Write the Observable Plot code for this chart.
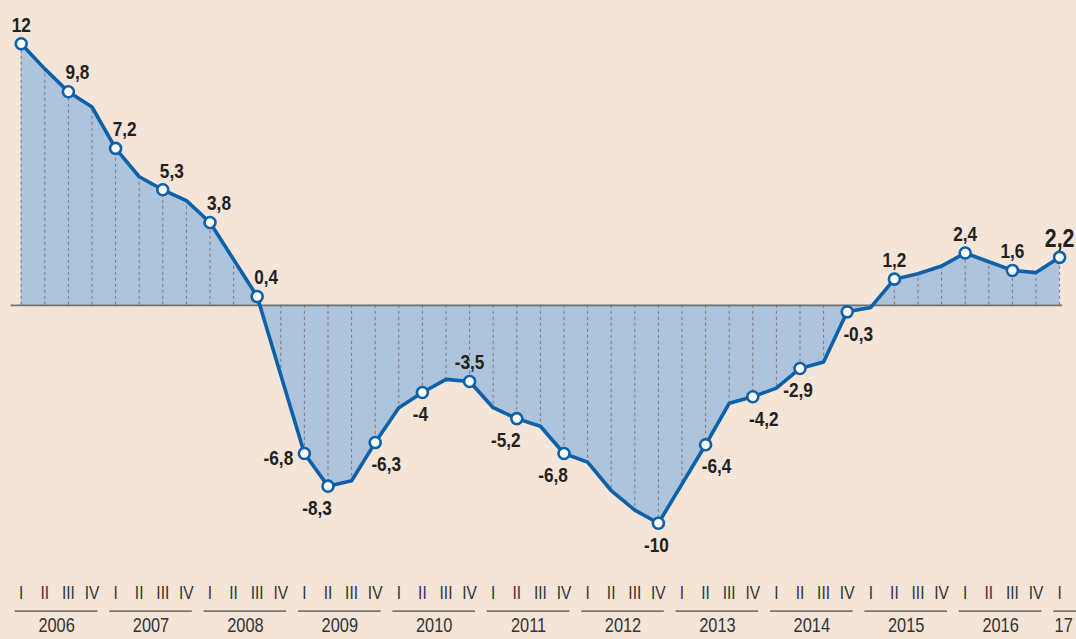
<!DOCTYPE html>
<html>
<head>
<meta charset="utf-8">
<script src="https://cdn.jsdelivr.net/npm/d3@7"></script>
<script src="https://cdn.jsdelivr.net/npm/@observablehq/plot@0.6"></script>
<style>
  html, body { margin: 0; padding: 0; background: #f5e4d8; }
  #chart { width: 1076px; height: 639px; overflow: hidden; }
</style>
</head>
<body>
<div id="chart"></div>
<script>
// ---- Data ----
const quarterNames = ["I", "II", "III", "IV"];
const yearLabels = ["2006", "2007", "2008", "2009", "2010", "2011", "2012", "2013", "2014", "2015", "2016", "17"];
// Quarterly values, 2006-I ... 2017-I
const growth = [
  12, 10.85, 9.8, 9.1,
  7.2, 5.9, 5.3, 4.8,
  3.8, 2.1, 0.4, -3.2,
  -6.8, -8.3, -8.05, -6.3,
  -4.7, -4, -3.4, -3.5,
  -4.7, -5.2, -5.55, -6.8,
  -7.2, -8.5, -9.4, -10,
  -8.2, -6.4, -4.5, -4.2,
  -3.8, -2.9, -2.6, -0.3,
  -0.1, 1.2, 1.45, 1.8,
  2.4, 2.0, 1.6, 1.5,
  2.2
];
// Quarters that carry a value label, and on which side of the point it sits
const labelled  = [0, 2, 4, 6, 8, 10, 12, 13, 15, 17, 19, 21, 23, 27, 29, 31, 33, 35, 37, 40, 42, 44];
const labelSide = ["N","NE","NE","NE","NE","NE","W","SW","SE","S","N","SW","SW","S","SE","SE","S","SE","N","N","N","N"];

// ---- Derived tables ----
const data = growth.map((v, i) => ({ i, v, q: quarterNames[i % 4] }));
const last = growth.length - 1;
const labelData = labelled.map((i, k) => ({
  i, v: growth[i], side: labelSide[k],
  text: String(growth[i]).replace(".", ",")
}));
const yearData = yearLabels.map((label, k) => ({ label, start: 4 * k, full: label.length === 4 }));

// ---- Styles ----
const BG = "#f5e4d8";
const BLUE = "#0d61a8";
const FILL = "#aec4dc";
const FONT = "'Liberation Sans', Arial, sans-serif";
const NARROW = 0.82; // horizontal condensing of all texts
const yDomain = [-10, 12];

const offsets = {
  N:  { dx: 0,   dy: -19 },
  NE: { dx: 9,   dy: -19 },
  S:  { dx: -2,  dy: 22 },
  SE: { dx: 11,  dy: 22 },
  SW: { dx: -11, dy: 22 },
  W:  { dx: -26, dy: 5 }
};

const labelMarks = Object.keys(offsets).map(side =>
  Plot.text(labelData.filter(d => d.side === side), {
    x: "i", y: "v", text: "text",
    dx: offsets[side].dx, dy: offsets[side].dy,
    fontSize: d => d.i === last ? 26 : 21,
    fontWeight: "bold", fill: "#231f20"
  })
);

const chart = Plot.plot({
  width: 1076,
  height: 639,
  marginLeft: 20.7,
  marginRight: 16.9,
  marginTop: 43.3,
  marginBottom: 116.3,
  style: { background: BG, fontFamily: FONT, overflow: "visible" },
  x: { domain: [0, last], axis: null },
  y: { domain: yDomain, axis: null },
  marks: [
    Plot.areaY(data, { x: "i", y: "v", fill: FILL }),
    Plot.ruleX(data, { x: "i", y1: 0, y2: "v", stroke: "#7a7a7a", strokeWidth: 1, strokeDasharray: "3,3" }),
    Plot.ruleY([0], { stroke: "#707070", strokeWidth: 1.8, insetLeft: -10, insetRight: -3 }),
    Plot.line(data, { x: "i", y: "v", stroke: BLUE, strokeWidth: 3.6, strokeLinejoin: "round" }),
    Plot.dot(labelData, { x: "i", y: "v", r: 5.5, fill: "white", stroke: BLUE, strokeWidth: 2.6 }),
    ...labelMarks,
    // quarter axis
    Plot.text(data, { x: "i", text: "q", frameAnchor: "bottom", dy: 76, fontSize: 19, fill: "#333" }),
    // year underlines
    Plot.ruleY(yearData, { x1: d => d.start - 0.25, x2: d => d.start + 3.25, y: yDomain[0], dy: 88, stroke: "#777", strokeWidth: 1.8 }),
    // year labels
    Plot.text(yearData.filter(d => d.full), { x: d => d.start + 1.5, text: "label", frameAnchor: "bottom", dy: 109, fontSize: 20, fill: "#333" }),
    Plot.text(yearData.filter(d => !d.full), { x: "start", text: "label", frameAnchor: "bottom", dy: 109, dx: -5, textAnchor: "start", fontSize: 20, fill: "#333" })
  ]
});

// condense every text horizontally around its own anchor
d3.select(chart).selectAll("text").each(function () {
  const t = this.getAttribute("transform");
  if (t) {
    this.setAttribute("transform", t + ` scale(${NARROW},1)`);
  } else {
    const x = +this.getAttribute("x") || 0, y = +this.getAttribute("y") || 0;
    this.setAttribute("x", 0);
    this.setAttribute("y", 0);
    this.setAttribute("transform", `translate(${x},${y}) scale(${NARROW},1)`);
  }
});

document.getElementById("chart").appendChild(chart);
</script>
</body>
</html>
